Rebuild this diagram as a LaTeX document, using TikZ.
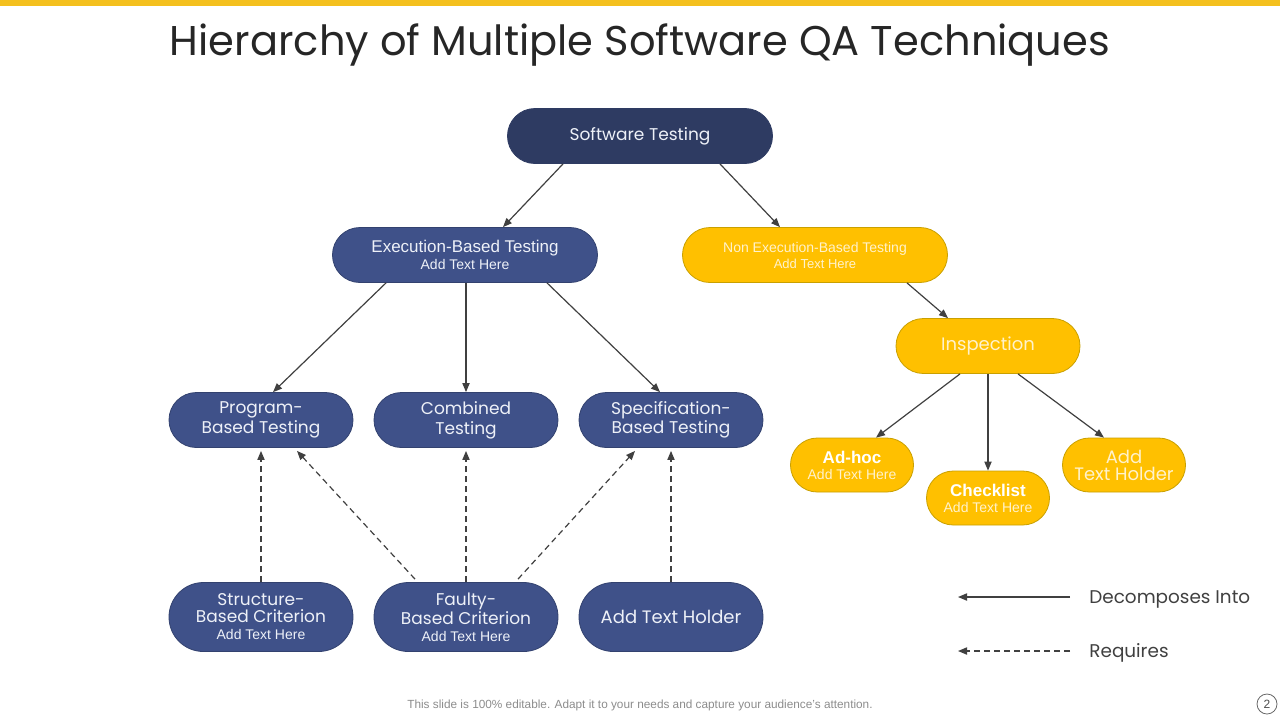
\documentclass[tikz,border=0pt]{standalone}
\usepackage{fontspec}
\setmainfont{Liberation Sans}
\newfontfamily\cg{Poppins}
\usetikzlibrary{arrows.meta}
\definecolor{navy}{HTML}{2E3B62}
\definecolor{bluefill}{HTML}{3F5189}
\definecolor{blueline}{HTML}{33426F}
\definecolor{gold}{HTML}{FFC000}
\definecolor{goldline}{HTML}{C9A000}
\definecolor{paleyellow}{HTML}{FFF2CC}
\definecolor{paleblue}{HTML}{EEF1F8}
\definecolor{arrowgray}{HTML}{404040}
\definecolor{topbar}{HTML}{F4C01E}
\tikzset{
  pill/.style={draw, line width=0.4pt, align=center, inner sep=1pt, minimum height=27.5pt, rounded corners=13.7pt},
  tallpill/.style={pill, minimum height=34.5pt, rounded corners=17.2pt},
  bluepill/.style={pill, fill=bluefill, draw=blueline, text=paleblue},
  yellowpill/.style={pill, fill=gold, draw=goldline, text=paleyellow},
  wide/.style={minimum width=132.5pt},
  mid/.style={minimum width=92pt},
  small/.style={minimum width=61.5pt, minimum height=27pt, rounded corners=13.4pt},
  gothic/.style={font=\cg\fontsize{8.5}{8.5}\selectfont},
  decomp/.style={draw=arrowgray, line width=0.6pt, -{Triangle[length=4.5pt,width=3.6pt]}},
  requires/.style={decomp, dash pattern=on 3pt off 2pt},
  legendtext/.style={anchor=west, text=black!75, font=\cg\fontsize{9.2}{10}\selectfont, inner sep=0pt},
}
\begin{document}
\begin{tikzpicture}[x=0.5pt,y=-0.5pt]
\useasboundingbox (0,0) rectangle (1280,720);
\fill[topbar] (0,0) rectangle (1280,6);
\node[text=black!85] (title) at (640,45) {\resizebox{470pt}{!}{\cg Hierarchy of Multiple Software QA Techniques}};

% top level
\node[bluepill, wide, fill=navy, draw=navy, gothic] (st) at (640,136) {Software Testing};
\node[bluepill, wide, font=\fontsize{8.5}{9.5}\selectfont] (exec) at (465,255) {Execution-Based Testing\\[-1pt]{\fontsize{7}{8}\selectfont Add Text Here}};
\node[yellowpill, wide, font=\fontsize{7}{8}\selectfont] (nonexec) at (815,255) {Non Execution-Based Testing\\{\fontsize{6.5}{7.5}\selectfont Add Text Here}};
\node[yellowpill, mid, gothic, font=\cg\fontsize{9}{9}\selectfont] (insp) at (988,346) {Inspection};

% inspection children
\node[yellowpill, small, text=white, font=\bfseries\fontsize{8.5}{9}\selectfont] (adhoc) at (852,465) {Ad-hoc\\[-1pt]{\mdseries\color{paleyellow}\fontsize{7}{8}\selectfont Add Text Here}};
\node[yellowpill, small, text=white, font=\bfseries\fontsize{8.5}{9}\selectfont] (check) at (988,498) {Checklist\\[-1pt]{\mdseries\color{paleyellow}\fontsize{7}{8}\selectfont Add Text Here}};
\node[yellowpill, small, gothic, font=\cg\fontsize{9}{8.5}\selectfont] (yholder) at (1124,465) {Add\\Text Holder};

% second row
\node[bluepill, mid, gothic] (prog) at (261,420) {Program-\\Based Testing};
\node[bluepill, mid, gothic] (comb) at (466,420) {Combined\\[1.5pt]Testing};
\node[bluepill, mid, gothic] (spec) at (671,420) {Specification-\\Based Testing};

% bottom row
\node[bluepill, tallpill, mid, gothic] (struct) at (261,617) {Structure-\\Based Criterion\\{\rmfamily\fontsize{7}{9}\selectfont Add Text Here}};
\node[bluepill, tallpill, mid, gothic] (faulty) at (466,617) {Faulty-\\Based Criterion\\{\rmfamily\fontsize{7}{9}\selectfont Add Text Here}};
\node[bluepill, tallpill, mid, gothic, font=\cg\fontsize{9}{9}\selectfont] (bholder) at (671,617) {Add Text Holder};

% decomposition arrows
\draw[decomp] ([xshift=-38.5pt]st.south) -- ([xshift=19pt]exec.north);
\draw[decomp] ([xshift=40pt]st.south) -- ([xshift=-17.5pt]nonexec.north);
\draw[decomp] ([xshift=46pt]nonexec.south) -- ([xshift=-20pt]insp.north);
\draw[decomp] ([xshift=-39.5pt]exec.south) -- ([xshift=6pt]prog.north);
\draw[decomp] ([xshift=0.5pt]exec.south) -- (comb.north);
\draw[decomp] ([xshift=41pt]exec.south) -- ([xshift=-5.5pt]spec.north);
\draw[decomp] ([xshift=-14pt]insp.south) -- ([xshift=12pt]adhoc.north);
\draw[decomp] (insp.south) -- (check.north);
\draw[decomp] ([xshift=15pt]insp.south) -- ([xshift=-10pt]yholder.north);

% requires arrows
\draw[requires] (struct.north) -- ([yshift=-1.5pt]prog.south);
\draw[requires] ([xshift=-25.5pt,yshift=1.5pt]faulty.north) -- ([xshift=18pt,yshift=-1.5pt]prog.south);
\draw[requires] (faulty.north) -- ([yshift=-1.5pt]comb.south);
\draw[requires] ([xshift=26pt,yshift=1.5pt]faulty.north) -- ([xshift=-18pt,yshift=-1.5pt]spec.south);
\draw[requires] (bholder.north) -- ([yshift=-1.5pt]spec.south);

% legend
\coordinate (la1) at (1070,597);
\coordinate (lb1) at (958,597);
\coordinate (la2) at (1070,651);
\coordinate (lb2) at (958,651);
\draw[decomp] (la1) -- (lb1);
\draw[requires] (la2) -- (lb2);
\node[legendtext] (leg1) at (1089,599) {Decomposes Into};
\node[legendtext] (leg2) at (1089,653) {Requires};

% footer
\node[text=black!45, font=\fontsize{5.9}{6}\selectfont] (foot) at (640,705) {This slide is 100\% editable. Adapt it to your needs and capture your audience's attention.};
\node[draw=black!60, circle, line width=0.4pt, minimum size=10pt, inner sep=0pt, text=black!70, font=\fontsize{6}{6}\selectfont] (page) at (1267,704) {2};
\end{tikzpicture}
\end{document}
